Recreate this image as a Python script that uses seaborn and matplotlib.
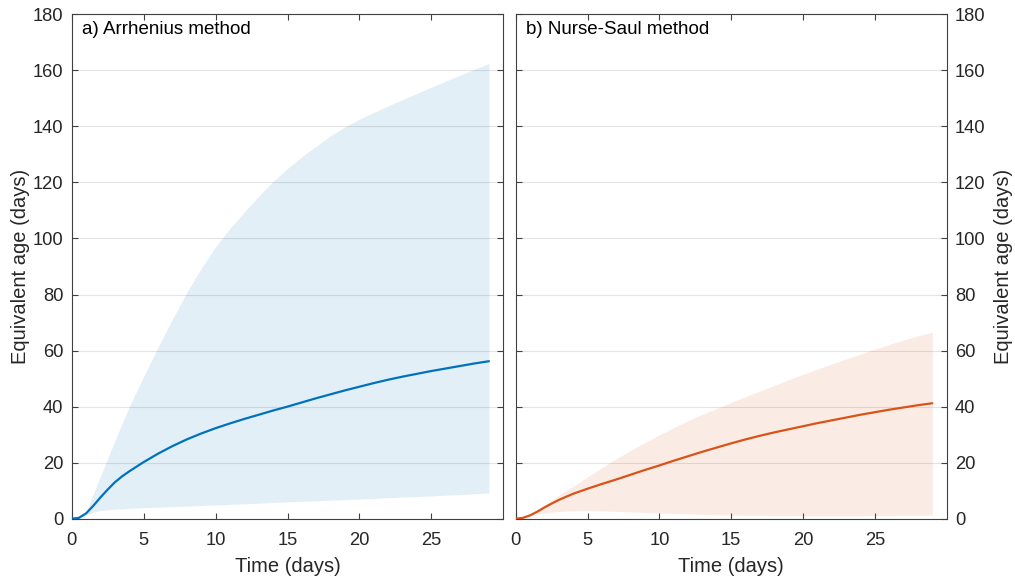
import numpy as np
import pandas as pd
import matplotlib
matplotlib.use("Agg")
import matplotlib.pyplot as plt
import seaborn as sns

# ---- data ----
time_days = [0, 0.5, 1, 1.5, 2, 2.5, 3, 3.5, 4, 5, 6, 7, 8, 9, 10, 11, 12, 13, 14, 15,
             16, 17, 18, 19, 20, 21, 22, 23, 24, 25, 26, 27, 28, 29]

arr_mean = [0, 0.3, 1.9, 4.6, 7.6, 10.4, 13.0, 15.1, 16.9, 20.2, 23.2, 25.9, 28.3, 30.4,
            32.3, 34.0, 35.6, 37.1, 38.6, 40.0, 41.5, 43.0, 44.4, 45.8, 47.1, 48.4,
            49.6, 50.7, 51.7, 52.7, 53.6, 54.5, 55.4, 56.2]
arr_upper = [0, 0, 2.3, 8.8, 15.2, 21.5, 27.8, 34.0, 40.0, 50.8, 61.2, 71.2, 80.8, 89.3,
             97.0, 103.6, 109.5, 115.1, 120.4, 125.0, 129.2, 133.0, 136.7, 139.8, 142.6,
             145.0, 147.3, 149.6, 151.8, 154.0, 156.2, 158.3, 160.4, 162.4]
arr_lower = [0, 0, 1.3, 2.3, 2.9, 3.2, 3.4, 3.5, 3.7, 3.9, 4.1, 4.3, 4.5, 4.7, 4.9, 5.1,
             5.3, 5.5, 5.8, 6.0, 6.2, 6.4, 6.6, 6.8, 7.0, 7.2, 7.5, 7.7, 7.9, 8.1, 8.4,
             8.6, 8.9, 9.2]

ns_mean = [0, 0.3, 1.2, 2.5, 4.0, 5.4, 6.7, 7.8, 8.9, 10.7, 12.4, 14.0, 15.7, 17.4, 19.0,
           20.7, 22.3, 23.9, 25.4, 26.9, 28.3, 29.6, 30.8, 31.9, 33.0, 34.1, 35.1, 36.1,
           37.1, 38.0, 38.9, 39.7, 40.5, 41.2]
ns_upper = [0, 0, 1.5, 3.2, 4.9, 6.6, 8.3, 10.0, 11.6, 14.9, 18.2, 21.4, 24.4, 27.2, 29.9,
            32.5, 35.0, 37.3, 39.4, 41.5, 43.6, 45.6, 47.6, 49.6, 51.5, 53.4, 55.2, 57.0,
            58.8, 60.5, 62.2, 63.8, 65.3, 66.5]
ns_lower = [0, 0, 1.0, 1.6, 2.0, 2.3, 2.5, 2.7, 2.8, 2.9, 2.8, 2.6, 2.4, 2.2, 2.0, 1.8,
            1.7, 1.5, 1.4, 1.3, 1.2, 1.2, 1.1, 1.1, 1.0, 1.0, 1.0, 1.0, 1.0, 1.1, 1.1,
            1.2, 1.2, 1.3]

panel_titles = ["a) Arrhenius method", "b) Nurse-Saul method"]
x_label = "Time (days)"
y_label = "Equivalent age (days)"
x_ticks = [0, 5, 10, 15, 20, 25]
y_ticks = [0, 20, 40, 60, 80, 100, 120, 140, 160, 180]

# ---- style ----
sns.set_theme(style="white")
plt.rcParams["font.family"] = ["Liberation Sans", "DejaVu Sans"]
plt.rcParams["axes.edgecolor"] = "#404040"
plt.rcParams["axes.linewidth"] = 0.8

blue = "#0072BD"
orange = "#D95319"
txt = "#262626"

fig = plt.figure(figsize=(10.15, 5.81), dpi=100)
ax1 = fig.add_axes([71.7 / 1015, 62.3 / 581, 431.6 / 1015, 504.4 / 581])
ax2 = fig.add_axes([515.7 / 1015, 62.3 / 581, 431.0 / 1015, 504.4 / 581])

panels = [
    (ax1, arr_mean, arr_lower, arr_upper, blue, panel_titles[0], "left"),
    (ax2, ns_mean, ns_lower, ns_upper, orange, panel_titles[1], "right"),
]

for ax, mean, lo, hi, col, title, side in panels:
    df = pd.DataFrame({"t": time_days, "age": mean})
    ax.fill_between(time_days, lo, hi, color=col, alpha=0.11, linewidth=0, zorder=1)
    sns.lineplot(data=df, x="t", y="age", ax=ax, color=col, linewidth=1.6, zorder=3)
    ax.set_xlim(0, 30)
    ax.set_ylim(0, 180)
    ax.set_xticks(x_ticks)
    ax.set_yticks(y_ticks)
    ax.grid(axis="y", color="#E3E3E3", linewidth=0.8, zorder=0)
    ax.set_axisbelow(True)
    ax.tick_params(direction="in", length=4, width=0.8, color="#404040",
                   labelsize=13.2, labelcolor=txt, top=True, right=True,
                   bottom=True, left=True)
    ax.tick_params(axis="y", pad=6)
    ax.tick_params(axis="x", pad=9.5)
    ax.set_xlabel(x_label, fontsize=14.5, color=txt, labelpad=5.5)
    if side == "right":
        ax.set_ylabel(y_label, fontsize=14.5, color=txt, labelpad=6)
        ax.yaxis.set_label_position("right")
        ax.tick_params(labelleft=False, labelright=True)
    else:
        ax.set_ylabel(y_label, fontsize=14.5, color=txt, labelpad=1.7)
    for s in ax.spines.values():
        s.set_visible(True)
        s.set_color("#404040")
        s.set_linewidth(0.8)
    ax.annotate(title, xy=(0, 1), xycoords="axes fraction", xytext=(7.3, -4.5),
                textcoords="offset points", ha="left", va="top",
                fontsize=13.5, color="black")

fig.savefig("out.png", dpi=100)
